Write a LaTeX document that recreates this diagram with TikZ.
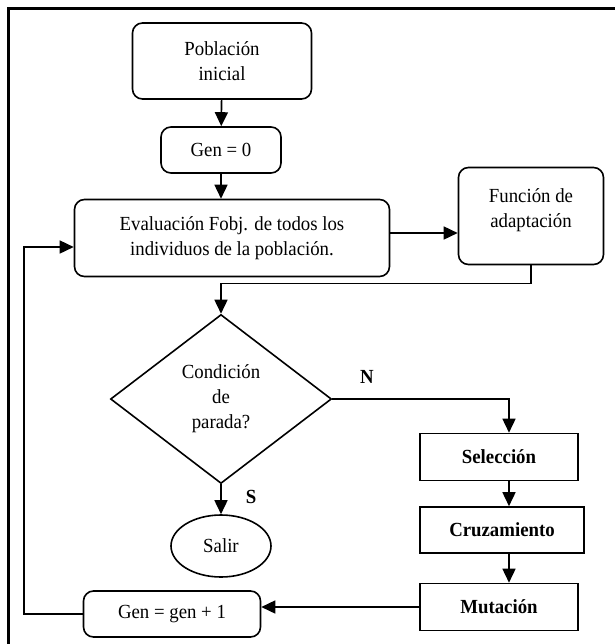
\documentclass[tikz,border=0pt]{standalone}
\usepackage{fontspec}
\setmainfont[FakeStretch=0.94]{Liberation Serif}
\usetikzlibrary{shapes.geometric,arrows.meta}

\begin{document}
\begin{tikzpicture}[x=0.5pt, y=-0.5pt, >={Triangle[length=7pt,width=6.5pt]}, line width=0.8pt,
  every node/.style={font=\fontsize{10}{12.5}\selectfont},
  rbox/.style={draw, rounded corners=5pt, align=center, inner sep=0pt},
  sbox/.style={draw, align=center, inner sep=0pt, font=\fontsize{10}{12.5}\selectfont\bfseries}]
  \useasboundingbox (0,0) rectangle (615,644);
  \draw[line width=1.75pt] (8.5,644) -- (8.5,8.5) -- (615,8.5);
  \node[rbox, minimum width=89.5pt, minimum height=38pt] (pob) at (222,61) {Población\\inicial};
  \node[rbox, minimum width=60pt, minimum height=23pt] (gen0) at (221,150) {Gen = 0};
  \node[rbox, minimum width=157.5pt, minimum height=38.5pt] (eval) at (232,238) {Evaluación Fobj. de todos los\\individuos de la población.};
  \node[rbox, minimum width=72.5pt, minimum height=48.5pt] (fun) at (531,216) {Función de\\adaptación\\[-8pt] \strut};
  \node[draw, diamond, aspect=1.31, minimum width=110.5pt, minimum height=84.5pt, inner sep=0pt, align=center] (dia) at (221,399) {Condición\\de\\parada?};
  \node[draw, ellipse, minimum width=50pt, minimum height=31pt, inner sep=0pt] (sal) at (221,546) {Salir};
  \node[sbox, minimum width=79pt, minimum height=23.5pt] (sel) at (499,457) {Selección};
  \node[sbox, minimum width=82pt, minimum height=23pt] (cru) at (502,530) {Cruzamiento};
  \node[sbox, minimum width=79pt, minimum height=23.5pt] (mut) at (499,607) {Mutación};
  \node[rbox, minimum width=88.5pt, minimum height=23pt] (gen1) at (172,614) {Gen = gen + 1};
  \node[font=\fontsize{10}{12.5}\selectfont\bfseries] (no) at (367,377) {N};
  \node[font=\fontsize{10}{12.5}\selectfont\bfseries] (si) at (251,497) {S};
  \coordinate (col) at (509,0);
  % conectores
  \draw[->] (pob) -- (gen0);
  \draw[->] (gen0.south) -- (gen0.south |- eval.north);
  \draw[->] ([yshift=2.5pt]eval.east) -- ([yshift=2.5pt]eval.east -| fun.west);
  \draw[->] (fun.south) -- ++(0,18) -| (dia.north);
  \draw[->] (dia.east) -| (sel.north -| col);
  \draw[->] (dia.south) -- (sal.north);
  \draw[->] (sel.south -| col) -- (cru.north -| col);
  \draw[->] (cru.south -| col) -- (mut.north -| col);
  \draw[->] (mut.west) -- (gen1.east |- mut.west);
  \draw[->] (gen1.west) -- ++(-59,0) |- ([yshift=-4.5pt]eval.west);
\end{tikzpicture}
\end{document}
